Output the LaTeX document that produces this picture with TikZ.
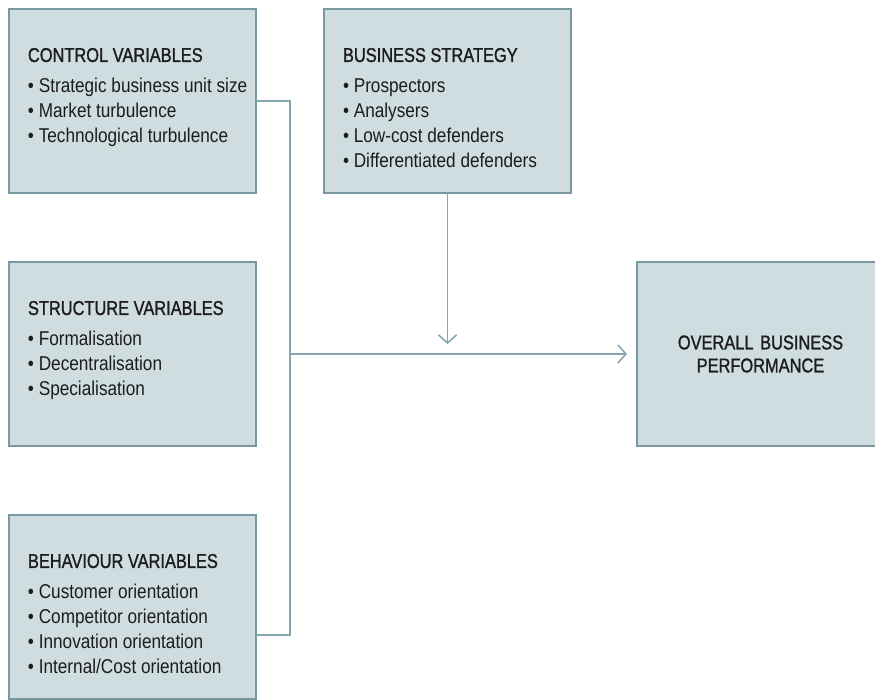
\documentclass[tikz,border=0pt]{standalone}
\usepackage{fontspec}
\setmainfont{Liberation Sans}[FakeStretch=0.86]
\newfontfamily\headfont{Liberation Sans}[FakeStretch=0.82,FakeBold=1.2]
\usetikzlibrary{arrows.meta}
\definecolor{boxfill}{RGB}{207,221,225}
\definecolor{boxline}{RGB}{122,152,162}
\definecolor{linkline}{RGB}{136,166,175}
\definecolor{inktext}{RGB}{28,28,28}
\newcommand{\varlist}[2]{\parbox[c][184pt][t]{247pt}{\raggedright\leftskip=19pt\vspace*{39pt}{\headfont #1\par}\vspace{6pt}#2}}

\begin{document}
\begin{tikzpicture}[x=1pt,y=-1pt,
		varbox/.style={draw=boxline,fill=boxfill,line width=1.6pt,anchor=north west,inner sep=0pt,outer sep=0pt,text=inktext,font=\fontsize{20}{25}\selectfont},
		link/.style={draw=linkline,line width=1.6pt},
		flow/.style={link,->,>={Straight Barb[length=8pt,width=18pt]},shorten >=10pt}]
			\useasboundingbox (0,0) rectangle (875,699);
			\clip (0,0) rectangle (875,699);
			\node[varbox] (ctrl)at(9,9) {\varlist{CONTROL VARIABLES}{\textbullet\ Strategic business unit size\\ \textbullet\ Market turbulence\\ \textbullet\ Technological turbulence}};
			\node[varbox] (strat)at(324,9) {\varlist{BUSINESS STRATEGY}{\textbullet\ Prospectors\\ \textbullet\ Analysers\\ \textbullet\ Low-cost defenders\\ \textbullet\ Differentiated defenders}};
			\node[varbox] (struct)at(9,262) {\varlist{STRUCTURE VARIABLES}{\textbullet\ Formalisation\\ \textbullet\ Decentralisation\\ \textbullet\ Specialisation}};
			\node[varbox] (behav)at(9,515) {\varlist{BEHAVIOUR VARIABLES}{\textbullet\ Customer orientation\\ \textbullet\ Competitor orientation\\ \textbullet\ Innovation orientation\\ \textbullet\ Internal/Cost orientation}};
			\node[varbox,text width=247pt,align=center,minimum height=184pt,font=\headfont\fontsize{20}{23}\selectfont] (perf)at(637,262) {OVERALL BUSINESS\\PERFORMANCE};
			\coordinate (joint)at(290,354);
			\coordinate (behavout)at([yshift=-28pt]behav.east);
			\draw[link] (ctrl.east) -| (joint);
			\draw[link] (behavout) -| (joint);
			\draw[flow] (joint) -- (perf.west);
			\draw[flow] (strat.south) -- (strat.south |- joint);
		\end{tikzpicture}
\end{document}
